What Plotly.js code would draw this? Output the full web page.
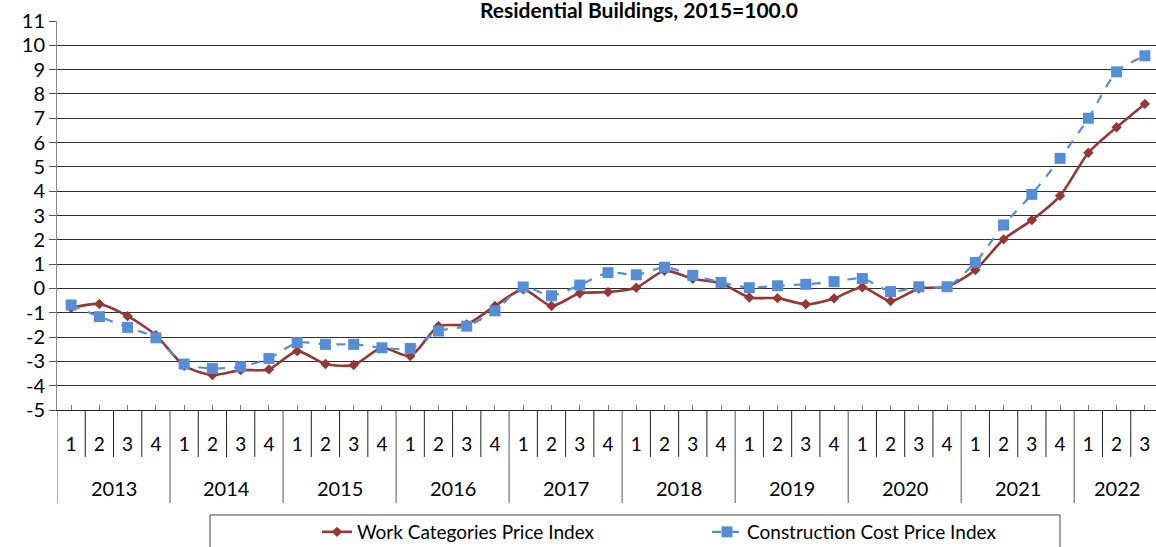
<!DOCTYPE html>
<html><head><meta charset="utf-8">
<script src="https://cdn.plot.ly/plotly-3.0.1.min.js"></script>
<style>html,body{margin:0;padding:0;background:#fff;overflow:hidden;}#chart{width:1159px;height:547px;}</style>
</head><body><div id="chart"></div>
<script>
const years = ['2013','2014','2015','2016','2017','2018','2019','2020','2021','2022'];
const quartersPerYear = [4,4,4,4,4,4,4,4,4,3];
const quarterLabels = ['1','2','3','4','1','2','3','4','1','2','3','4','1','2','3','4','1','2','3','4',
  '1','2','3','4','1','2','3','4','1','2','3','4','1','2','3','4','1','2','3'];
const yTickValues = [-5,-4,-3,-2,-1,0,1,2,3,4,5,6,7,8,9,10,11];
const yTickLabels = ['-5','-4','-3','-2','-1','0','1','2','3','4','5','6','7','8','9','10','11'];
const workIndex = [-0.80,-0.64,-1.14,-1.92,-3.18,-3.56,-3.36,-3.33,-2.58,-3.11,-3.15,-2.44,
  -2.78,-1.55,-1.48,-0.72,-0.04,-0.72,-0.20,-0.15,0.03,0.73,0.40,0.21,
  -0.37,-0.40,-0.65,-0.41,0.05,-0.52,0.00,0.07,0.76,2.02,2.81,3.81,5.58,6.63,7.59];
const costIndex = [-0.68,-1.16,-1.60,-2.03,-3.11,-3.29,-3.22,-2.88,-2.23,-2.30,-2.30,-2.44,
  -2.47,-1.75,-1.55,-0.92,0.06,-0.30,0.14,0.65,0.56,0.87,0.54,0.25,
  0.03,0.11,0.17,0.28,0.41,-0.13,0.07,0.07,1.07,2.61,3.87,5.35,7.00,8.91,9.57];
const seriesNames = ['Work Categories Price Index','Construction Cost Price Index'];
const titleText = 'Residential Buildings, 2015=100.0';

const W = 1159, H = 547;
const mL = 57, mT = 21, mB = 137;
const plotW = W - mL, plotH = H - mT - mB;
const pyToPaper = py => (H - mB - py) / plotH;
const pxToPaper = px => (px - mL) / plotW;

const idx = quarterLabels.map((_, i) => i);
const FONT = 'Lato, Carlito, Calibri, sans-serif';

const traces = [
  {x: idx, y: workIndex, name: seriesNames[0], type: 'scatter', mode: 'lines+markers',
   line: {color: '#953735', width: 2.6, shape: 'spline', smoothing: 0.7},
   marker: {symbol: 'diamond', size: 8, color: '#953735'}},
  {x: idx, y: costIndex, name: seriesNames[1], type: 'scatter', mode: 'lines+markers',
   line: {color: '#558ED5', width: 2.2, dash: 'dash', shape: 'spline', smoothing: 0.7},
   marker: {symbol: 'square', size: 11, color: '#558ED5'}}
];

const shapes = [];
const annotations = [];
let start = 0;
const yearStarts = new Set();
years.forEach((yr, k) => {
  yearStarts.add(start);
  annotations.push({x: start + (quartersPerYear[k]-1)/2, y: pyToPaper(488), xref: 'x', yref: 'paper',
    text: yr, showarrow: false, yanchor: 'middle', xanchor: 'center', font: {family: FONT, size: 20, color: '#000'}});
  start += quartersPerYear[k];
});
for (let b = 0; b <= quarterLabels.length; b++) {
  const isYear = yearStarts.has(b) || b === quarterLabels.length;
  shapes.push({type: 'line', xref: 'x', yref: 'paper', x0: b - 0.5, x1: b - 0.5,
    y0: 0, y1: pyToPaper(isYear ? 503 : 457),
    line: {color: isYear ? '#555' : '#222', width: 1}});
}
shapes.push({type: 'rect', xref: 'paper', yref: 'paper', x0: pxToPaper(210), x1: pxToPaper(1060),
  y0: pyToPaper(515), y1: pyToPaper(560), line: {color: '#444', width: 1}, fillcolor: 'rgba(0,0,0,0)'});

const layout = {
  width: W, height: H,
  margin: {l: mL, r: 0, t: mT, b: mB},
  paper_bgcolor: '#fff', plot_bgcolor: '#fff',
  font: {family: FONT, size: 17, color: '#000'},
  title: {text: '<b>' + titleText + '</b>', x: 639/W, xanchor: 'center', xref: 'container',
    y: 1 - 10.5/H, yref: 'container', yanchor: 'middle', font: {family: FONT, size: 21, color: '#000'}},
  showlegend: true,
  legend: {orientation: 'h', xref: 'container', yref: 'container', x: 317/W, xanchor: 'left',
    y: 1 - 532/H, yanchor: 'middle', bgcolor: 'rgba(0,0,0,0)', borderwidth: 0,
    font: {family: FONT, size: 19, color: '#000'}, entrywidth: 345, entrywidthmode: 'pixels'},
  xaxis: {range: [-0.5, quarterLabels.length - 0.5], tickvals: idx, ticktext: quarterLabels,
    ticks: 'inside', ticklen: 5, tickcolor: '#777', tickwidth: 1,
    showgrid: false, zeroline: false, showline: true, linecolor: '#222', linewidth: 1,
    ticklabelstandoff: 17, tickfont: {family: FONT, size: 19, color: '#000'}, fixedrange: true},
  yaxis: {range: [-5, 11], tickvals: yTickValues, ticktext: yTickLabels, ticks: 'outside', ticklen: 7, tickcolor: '#555',
    showgrid: true, gridcolor: '#2e2e2e', gridwidth: 1, zeroline: true, zerolinecolor: '#2e2e2e', zerolinewidth: 1,
    showline: true, linecolor: '#888', linewidth: 1,
    tickfont: {family: FONT, size: 20, color: '#000'}, fixedrange: true},
  shapes: shapes,
  annotations: annotations
};

Plotly.newPlot('chart', traces, layout, {staticPlot: true, displayModeBar: false});
</script>
</body></html>
